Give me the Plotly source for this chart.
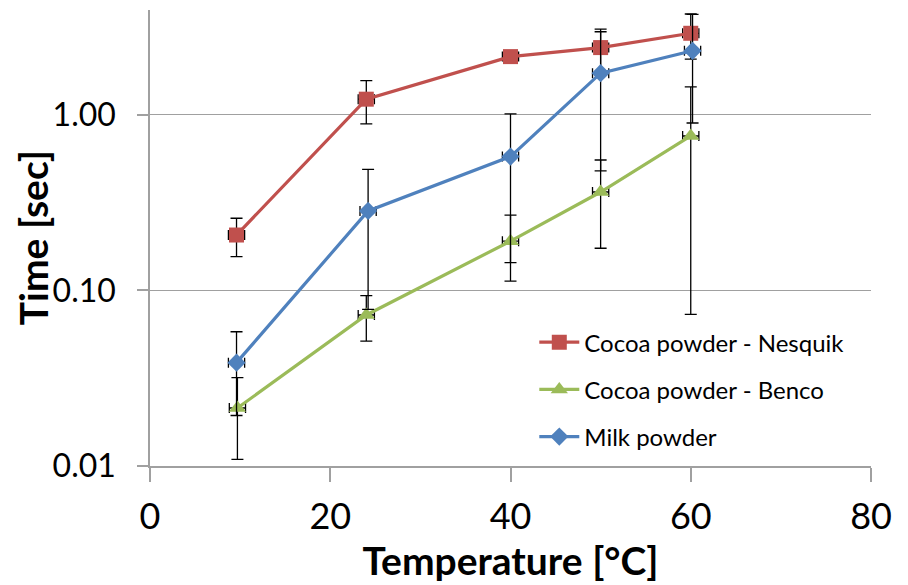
import plotly.graph_objects as go

# Dissolution time vs temperature for three powders
temp_nesquik = [9.6, 24.0, 40.0, 50.0, 60.0]
time_nesquik = [0.207, 1.23, 2.15, 2.42, 2.92]
err_nesquik = [0.051, 0.34, 0.10, 0.66, 0.84]

temp_benco = [9.7, 24.0, 40.0, 50.0, 60.0]
time_benco = [0.0214, 0.0725, 0.191, 0.364, 0.759]
err_benco = [0.0105, 0.021, 0.078, 0.19, 0.686]

temp_milk = [9.6, 24.2, 40.0, 50.0, 60.2]
time_milk = [0.0388, 0.284, 0.579, 1.73, 2.32]
err_milk = [0.0194, 0.206, 0.435, 1.25, 1.42]

temp_err = 0.9

series = [
    ("Cocoa powder - Nesquik", temp_nesquik, time_nesquik, err_nesquik, "#C0504D", "square", 15),
    ("Cocoa powder - Benco", temp_benco, time_benco, err_benco, "#9BBB59", "triangle-up", 15),
    ("Milk powder", temp_milk, time_milk, err_milk, "#4F81BD", "diamond", 14),
]

FONT = "Lato"

fig = go.Figure()
for i, (name, xs, ys, es, color, symbol, size) in enumerate(series):
    fig.add_trace(go.Scatter(
        x=xs, y=ys, name=name, mode="lines+markers",
        legendgroup=f"g{i}",
        line=dict(color=color, width=3.2),
        marker=dict(symbol=symbol, size=size, color=color),
        error_y=dict(type="data", array=es, visible=True, color="black", thickness=1.3, width=6),
        error_x=dict(type="constant", value=temp_err, visible=True, color="black", thickness=1.3, width=5),
    ))

fig.update_layout(
    width=908, height=585,
    margin=dict(l=150, r=37, t=10, b=119),
    paper_bgcolor="white", plot_bgcolor="white",
    font=dict(family=FONT, color="black"),
    showlegend=True,
    legend=dict(
        x=0.533, y=0.32, xanchor="left", yanchor="top",
        bgcolor="rgba(0,0,0,0)", font=dict(size=24, family=FONT),
        tracegroupgap=13, itemwidth=40,
    ),
)

# Vertical axis title placed as a rotated annotation left of the tick labels
fig.add_annotation(
    text="<b>Time [sec]</b>", textangle=-90,
    xref="paper", yref="paper", x=-0.162, y=0.5,
    xanchor="center", yanchor="middle", showarrow=False,
    font=dict(size=39, family=FONT, color="black"),
)

fig.update_xaxes(
    range=[0, 80], tickvals=[0, 20, 40, 60, 80],
    showgrid=False, zeroline=False,
    showline=True, linecolor="#A0A0A0", linewidth=1.5,
    ticks="outside", ticklen=14, tickcolor="#A0A0A0", tickwidth=1.5,
    ticklabelstandoff=4,
    tickfont=dict(size=36, family=FONT),
    title=dict(text="<b>Temperature [°C]</b>", font=dict(size=39, family=FONT), standoff=0),
)

fig.update_yaxes(
    type="log", range=[-2, 0.598],
    tickvals=[0.01, 0.1, 1], ticktext=["0.01", "0.10", "1.00"],
    showgrid=True, gridcolor="#A0A0A0", gridwidth=1.2,
    zeroline=False,
    showline=True, linecolor="#A0A0A0", linewidth=1.5,
    ticks="outside", ticklen=11, tickcolor="#A0A0A0", tickwidth=1.5,
    ticklabelstandoff=15,
    tickfont=dict(size=32, family=FONT),
)

fig.write_html("out.html")
